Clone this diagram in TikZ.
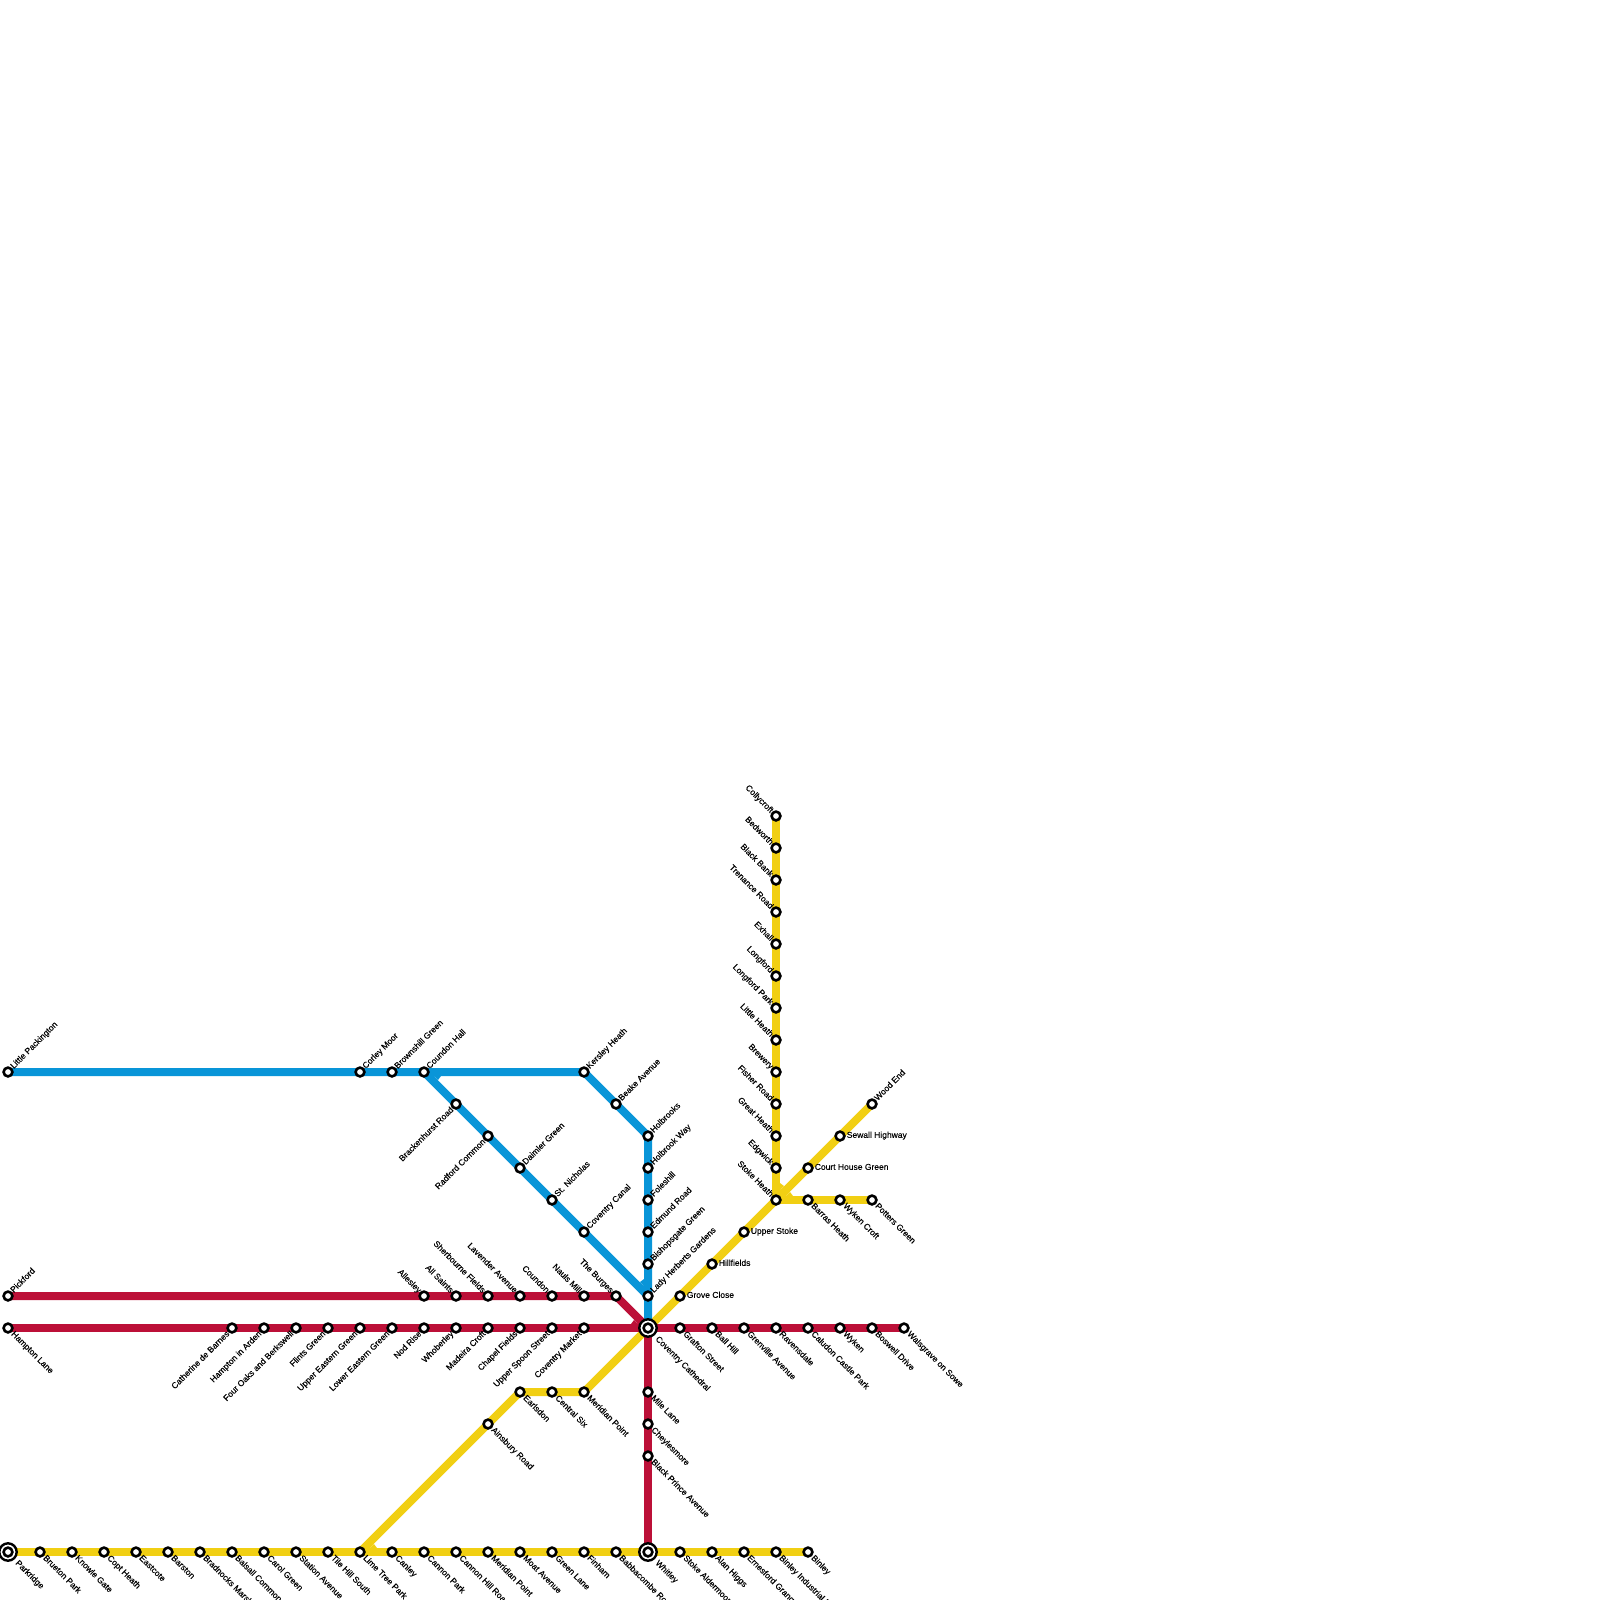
\documentclass[tikz,border=0pt]{standalone}
\usepackage{fontspec}
\setmainfont{Liberation Sans}[BoldFont={Liberation Sans},BoldFeatures={FakeBold=0.15}]
\definecolor{linered}{HTML}{BC1038}
\definecolor{lineblue}{HTML}{0995D8}
\definecolor{lineyellow}{HTML}{F1CF13}
\pgfdeclarelayer{lines}
\pgfsetlayers{lines,main}
\tikzset{
  line/.style={line width=8pt,line join=miter,line cap=butt},
  station/.style={circle,draw=black,fill=white,line width=2.6pt,inner sep=0pt,minimum size=8.8pt},
  hubring/.style={circle,draw=black,fill=white,line width=2.4pt,inner sep=0pt,minimum size=17.4pt},
  lab/.style={font=\fontsize{8.5pt}{8.5pt}\selectfont\bfseries,inner sep=0pt,anchor=mid west,text=black},
  se/.style={lab,shift={(4.6,4.6)},rotate=-45},
  ne/.style={lab,shift={(3.8,-4.6)},rotate=45},
  nw/.style={lab,anchor=mid east,shift={(-3.9,-4.4)},rotate=-45},
  sw/.style={lab,anchor=mid east,shift={(-3.8,4.4)},rotate=45},
  ee/.style={lab,shift={(6.6,-0.8)}},
  hse/.style={lab,shift={(8.8,9.6)},rotate=-45},
}
\newcommand{\stn}[5]{\node[station] (#1) at (#2,#3) {}; \node[#4] (#1-l) at (#1) {#5};}
\newcommand{\hub}[5]{\node[hubring] (#1-o) at (#2,#3) {}; \node[station] (#1) at (#2,#3) {}; \node[#4] (#1-l) at (#1) {#5};}
\newcommand{\notch}[5]{\fill[#1] ([shift={#3}]#2.center) -- ([shift={#4}]#2.center) -- ([shift={#5}]#2.center) -- cycle;}
\begin{document}
\begin{tikzpicture}[x=1pt,y=-1pt]
\useasboundingbox (0,0) rectangle (1600,1600);
% blue stations
\stn{lp}{8}{1072}{ne}{Little Packington}
\stn{cm}{360}{1072}{ne}{Corley Moor}
\stn{bg}{392}{1072}{ne}{Brownshill Green}
\stn{ch}{424}{1072}{ne}{Coundon Hall}
\stn{kh}{584}{1072}{ne}{Kersley Heath}
\stn{ba}{616}{1104}{ne}{Beake Avenue}
\stn{hb}{648}{1136}{ne}{Holbrooks}
\stn{hw}{648}{1168}{ne}{Holbrook Way}
\stn{fo}{648}{1200}{ne}{Foleshill}
\stn{er}{648}{1232}{ne}{Edmund Road}
\stn{bi}{648}{1264}{ne}{Bishopsgate Green}
\stn{lh}{648}{1296}{ne}{Lady Herberts Gardens}
\stn{br}{456}{1104}{sw}{Brackenhurst Road}
\stn{rc}{488}{1136}{sw}{Radford Common}
\stn{dg}{520}{1168}{ne}{Daimler Green}
\stn{sn}{552}{1200}{ne}{St. Nicholas}
\stn{cc}{584}{1232}{ne}{Coventry Canal}
% red upper
\stn{pi}{8}{1296}{ne}{Pickford}
\stn{al}{424}{1296}{nw}{Allesley}
\stn{as}{456}{1296}{nw}{All Saints}
\stn{sf}{488}{1296}{nw}{Sherbourne Fields}
\stn{la}{520}{1296}{nw}{Lavender Avenue}
\stn{cn}{552}{1296}{nw}{Coundon}
\stn{nm}{584}{1296}{nw}{Nauls Mill}
\stn{tb}{616}{1296}{nw}{The Burges}
% red lower
\stn{hl}{8}{1328}{se}{Hampton Lane}
\stn{cb}{232}{1328}{sw}{Catherine de Barnes}
\stn{ha}{264}{1328}{sw}{Hampton in Arden}
\stn{fb}{296}{1328}{sw}{Four Oaks and Berkswell}
\stn{fg}{328}{1328}{sw}{Flints Green}
\stn{ue}{360}{1328}{sw}{Upper Eastern Green}
\stn{le}{392}{1328}{sw}{Lower Eastern Green}
\stn{nr}{424}{1328}{sw}{Nod Rise}
\stn{wh}{456}{1328}{sw}{Whoberley}
\stn{mc}{488}{1328}{sw}{Madeira Croft}
\stn{cf}{520}{1328}{sw}{Chapel Fields}
\stn{us}{552}{1328}{sw}{Upper Spoon Street}
\stn{cv}{584}{1328}{sw}{Coventry Market}
\hub{cat}{648}{1328}{hse}{Coventry Cathedral}
\stn{gs}{680}{1328}{se}{Grafton Street}
\stn{bh}{712}{1328}{se}{Ball Hill}
\stn{ga}{744}{1328}{se}{Grenville Avenue}
\stn{ra}{776}{1328}{se}{Ravensdale}
\stn{cp}{808}{1328}{se}{Caludon Castle Park}
\stn{wy}{840}{1328}{se}{Wyken}
\stn{bd}{872}{1328}{se}{Boswell Drive}
\stn{ws}{904}{1328}{se}{Walsgrave on Sowe}
\stn{ml}{648}{1392}{se}{Mile Lane}
\stn{cy}{648}{1424}{se}{Cheylesmore}
\stn{bp}{648}{1456}{se}{Black Prince Avenue}
% yellow bottom
\hub{pk}{8}{1552}{hse}{Parkridge}
\stn{bn}{40}{1552}{se}{Brueton Park}
\stn{kg}{72}{1552}{se}{Knowle Gate}
\stn{co}{104}{1552}{se}{Copt Heath}
\stn{ea}{136}{1552}{se}{Eastcote}
\stn{bs}{168}{1552}{se}{Barston}
\stn{bm}{200}{1552}{se}{Bradnocks Marsh}
\stn{bc}{232}{1552}{se}{Balsall Common}
\stn{cg}{264}{1552}{se}{Carol Green}
\stn{sa}{296}{1552}{se}{Station Avenue}
\stn{ts}{328}{1552}{se}{Tile Hill South}
\stn{lt}{360}{1552}{se}{Lime Tree Park}
\stn{ca}{392}{1552}{se}{Canley}
\stn{cpk}{424}{1552}{se}{Cannon Park}
\stn{ck}{456}{1552}{se}{Cannon Hill Road}
\stn{mp}{488}{1552}{se}{Meridian Point}
\stn{ma}{520}{1552}{se}{Moat Avenue}
\stn{gl}{552}{1552}{se}{Green Lane}
\stn{fi}{584}{1552}{se}{Finham}
\stn{bb}{616}{1552}{se}{Babbacombe Road}
\hub{wt}{648}{1552}{hse}{Whitley}
\stn{sk}{680}{1552}{se}{Stoke Aldermoor}
\stn{ah}{712}{1552}{se}{Alan Higgs}
\stn{eg}{744}{1552}{se}{Ernesford Grange}
\stn{bie}{776}{1552}{se}{Binley Industrial Estate}
\stn{bl}{808}{1552}{se}{Binley}
% yellow branch
\stn{ai}{488}{1424}{se}{Ainsbury Road}
\stn{ed}{520}{1392}{se}{Earlsdon}
\stn{cs}{552}{1392}{se}{Central Six}
\stn{mq}{584}{1392}{se}{Meridian Point}
\stn{gc}{680}{1296}{ee}{Grove Close}
\stn{hi}{712}{1264}{ee}{Hillfields}
\stn{up}{744}{1232}{ee}{Upper Stoke}
\stn{sh}{776}{1200}{nw}{Stoke Heath}
\stn{ct}{808}{1168}{ee}{Court House Green}
\stn{sw}{840}{1136}{ee}{Sewall Highway}
\stn{we}{872}{1104}{ne}{Wood End}
\stn{bz}{808}{1200}{se}{Barras Heath}
\stn{wc}{840}{1200}{se}{Wyken Croft}
\stn{pg}{872}{1200}{se}{Potters Green}
% yellow vertical
\stn{cl}{776}{816}{nw}{Collycroft}
\stn{bw}{776}{848}{nw}{Bedworth}
\stn{bk}{776}{880}{nw}{Black Bank}
\stn{tr}{776}{912}{nw}{Trenance Road}
\stn{ex}{776}{944}{nw}{Exhall}
\stn{lf}{776}{976}{nw}{Longford}
\stn{lk}{776}{1008}{nw}{Longford Park}
\stn{li}{776}{1040}{nw}{Little Heath}
\stn{by}{776}{1072}{nw}{Brewery}
\stn{fr}{776}{1104}{nw}{Fisher Road}
\stn{gh}{776}{1136}{nw}{Great Heath}
\stn{ew}{776}{1168}{nw}{Edgwick}
\begin{pgfonlayer}{lines}
\draw[line,lineyellow] (pk.center) -- (bl.center);
\draw[line,lineyellow] (lt.center) -- (ed.center) -- (mq.center) -- (sh.center);
\draw[line,lineyellow] (cl.center) -- (sh.center);
\draw[line,lineyellow] (sh.center) -- (we.center);
\draw[line,lineyellow] (sh.center) -- (pg.center);
\notch{lineyellow}{lt}{(9.66,-4)}{(17,-4)}{(14,-8)}
\notch{lineyellow}{sh}{(4,-9.66)}{(4,-17)}{(8,-14)}
\notch{lineyellow}{sh}{(9.66,-4)}{(17,-4)}{(14,-8)}
\draw[line,lineblue] (lp.center) -- (kh.center) -- (hb.center) -- (cat.center);
\draw[line,lineblue] (ch.center) -- (lh.center);
\notch{lineblue}{ch}{(9.66,4)}{(17,4)}{(14,8)}
\notch{lineblue}{lh}{(-4,-9.66)}{(-4,-17)}{(-8,-14)}
\draw[line,linered] (pi.center) -- (tb.center) -- (cat.center);
\draw[line,linered] (hl.center) -- (ws.center);
\draw[line,linered] (cat.center) -- (wt.center);
\notch{linered}{cat}{(-9.66,-4)}{(-17,-4)}{(-14,-8)}
\end{pgfonlayer}
\end{tikzpicture}
\end{document}
